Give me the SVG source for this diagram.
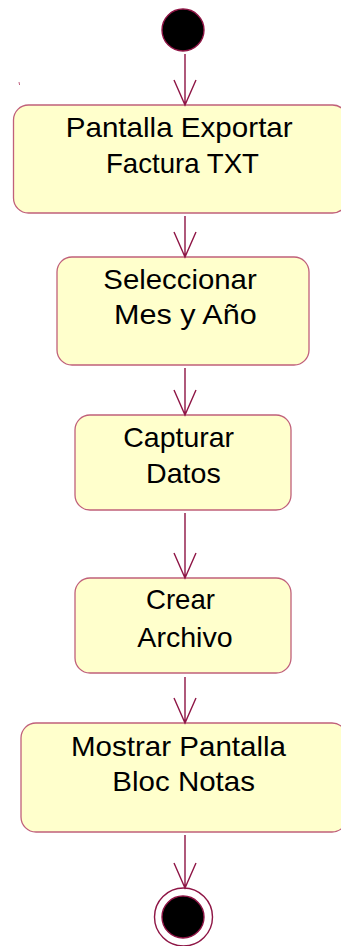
<svg xmlns="http://www.w3.org/2000/svg" width="341" height="946" viewBox="0 0 341 946">
<style>
.box{fill:#FFFFCC;stroke:#C0607A;stroke-width:1.3}
.lbl{font-family:"Liberation Sans",Arial,sans-serif;font-size:28px;fill:#000}
.edge{stroke:#8E1545;stroke-width:1.4;fill:none}
</style>
<rect width="341" height="946" fill="#fff"/>
<line x1="19" y1="82" x2="19.6" y2="85" stroke="#C06080" stroke-width="1"/>
<g id="start"><circle cx="183" cy="30" r="21" fill="#000" stroke="#8E1545" stroke-width="1.4"/></g>
<g id="n1"><rect class="box" x="13.5" y="105" width="334" height="108" rx="15"/>
<text class="lbl" x="65.7" y="137" textLength="227" lengthAdjust="spacingAndGlyphs">Pantalla Exportar</text>
<text class="lbl" x="106" y="173" textLength="153" lengthAdjust="spacingAndGlyphs">Factura TXT</text></g>
<g id="n2"><rect class="box" x="57" y="257" width="252" height="108" rx="15"/>
<text class="lbl" x="103.3" y="289" textLength="153.4" lengthAdjust="spacingAndGlyphs">Seleccionar</text>
<text class="lbl" x="114" y="324" textLength="142.7" lengthAdjust="spacingAndGlyphs">Mes y Año</text></g>
<g id="n3"><rect class="box" x="75" y="415" width="216" height="95" rx="15"/>
<text class="lbl" x="123.3" y="447" textLength="110.7" lengthAdjust="spacingAndGlyphs">Capturar</text>
<text class="lbl" x="146" y="483" textLength="74.7" lengthAdjust="spacingAndGlyphs">Datos</text></g>
<g id="n4"><rect class="box" x="75" y="578" width="216" height="95" rx="15"/>
<text class="lbl" x="146" y="609" textLength="69" lengthAdjust="spacingAndGlyphs">Crear</text>
<text class="lbl" x="137.3" y="647" textLength="95.4" lengthAdjust="spacingAndGlyphs">Archivo</text></g>
<g id="n5"><rect class="box" x="21" y="723" width="326" height="109" rx="15"/>
<text class="lbl" x="71" y="756" textLength="215" lengthAdjust="spacingAndGlyphs">Mostrar Pantalla</text>
<text class="lbl" x="112.3" y="791" textLength="142.7" lengthAdjust="spacingAndGlyphs">Bloc Notas</text></g>
<g id="end"><circle cx="183.5" cy="917" r="29" fill="#fff" stroke="#8E1545" stroke-width="1.4"/>
<circle cx="183" cy="917" r="21" fill="#000" stroke="#8E1545" stroke-width="1.4"/></g>
<g id="connectors" class="edge">
<path d="M185 54V105M174 80L185 105L196 80"/>
<path d="M185 216V257M174 232L185 257L196 232"/>
<path d="M185 368V415M174 390L185 415L196 390"/>
<path d="M185 513V578M174 553L185 578L196 553"/>
<path d="M185 677V723M174 698L185 723L196 698"/>
<path d="M185 835V888M174 863L185 888L196 863"/>
</g>
</svg>
